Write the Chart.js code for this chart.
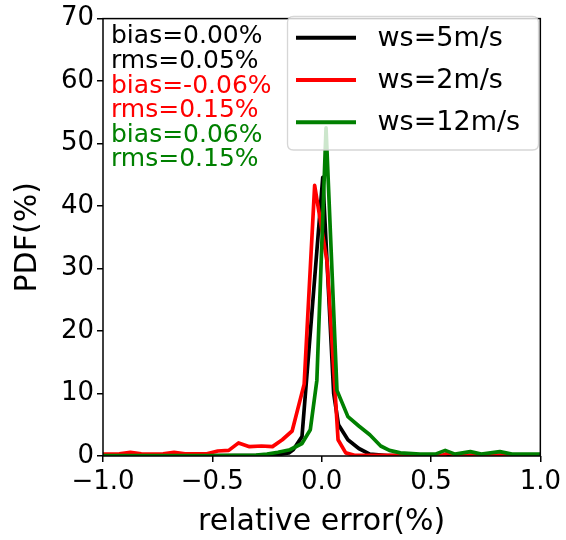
<!DOCTYPE html>
<html><head><meta charset="utf-8">
<script src="https://cdn.jsdelivr.net/npm/chart.js@4/dist/chart.umd.min.js"></script>
<style>html,body{margin:0;padding:0;background:#fff;}</style>
</head><body>
<canvas id="c" width="566" height="540" style="width:566px;height:540px;display:block"></canvas>
<script>
// ---------- data ----------
const seriesLabels = ["ws=5m/s", "ws=2m/s", "ws=12m/s"];

const err5 = [-1.0, -0.5, -0.25, -0.2, -0.15, -0.13, -0.09, 0.005, 0.055, 0.077, 0.12, 0.17, 0.22, 0.3, 1.0];
const pdf5 = [0.05, 0.05, 0.1, 0.2, 0.5, 1.0, 3.1, 44.6, 10.0, 5.0, 2.6, 1.2, 0.3, 0.05, 0.05];

const err2 = [-1.0, -0.975, -0.925, -0.875, -0.825, -0.775, -0.725, -0.675, -0.625, -0.575, -0.525, -0.475, -0.425, -0.38, -0.33, -0.275, -0.225, -0.18, -0.135, -0.08, -0.032, 0.025, 0.075, 0.11, 0.15, 0.3, 0.55, 0.58, 0.62, 0.95, 1.0];
const pdf2 = [0.3, 0.3, 0.35, 0.6, 0.35, 0.3, 0.35, 0.6, 0.35, 0.35, 0.35, 0.8, 0.9, 2.1, 1.5, 1.6, 1.5, 2.6, 4.0, 11.5, 43.3, 31.0, 2.6, 0.5, 0.1, 0.1, 0.1, 0.5, 0.1, 0.2, 0.2];

const err12 = [-1.0, -0.5, -0.3, -0.25, -0.2, -0.145, -0.09, -0.052, -0.022, 0.02, 0.07, 0.12, 0.17, 0.22, 0.27, 0.31, 0.36, 0.45, 0.52, 0.565, 0.61, 0.68, 0.73, 0.815, 0.87, 1.0];
const pdf12 = [0.05, 0.05, 0.15, 0.3, 0.6, 1.0, 2.0, 4.2, 12.1, 52.5, 10.5, 6.3, 4.8, 3.4, 1.6, 0.9, 0.5, 0.3, 0.3, 0.9, 0.3, 0.7, 0.3, 0.7, 0.3, 0.3];

const xTickValues = [-1.0, -0.5, 0.0, 0.5, 1.0];
const xTickLabels = ["\u22121.0", "\u22120.5", "0.0", "0.5", "1.0"];
const yTickValues = [0, 10, 20, 30, 40, 50, 60, 70];
const yTickLabels = ["0", "10", "20", "30", "40", "50", "60", "70"];

const biasValues = ["0.00", "-0.06", "0.06"];
const rmsValues = ["0.05", "0.15", "0.15"];

const xTitle = "relative error(%)";
const yTitle = "PDF(%)";

// ---------- styles ----------
const colors = ["#000000", "#ff0000", "#008000"];
const FONT = "'DejaVu Sans', 'Liberation Sans', sans-serif";

function pairs(xs, ys) { return xs.map((x, i) => ({ x: x, y: ys[i] })); }

const seriesX = [err5, err2, err12];
const seriesY = [pdf5, pdf2, pdf12];

const datasets = seriesLabels.map((lab, i) => ({
  label: lab,
  data: pairs(seriesX[i], seriesY[i]),
  borderColor: colors[i],
  backgroundColor: colors[i],
  borderWidth: 3.7,
  pointRadius: 0,
  tension: 0,
  fill: false,
  clip: 0,
  order: seriesLabels.length - i,
  borderJoinStyle: 'round',
  borderCapStyle: 'round'
}));

const overlay = {
  id: 'overlay',
  afterDatasetsDraw(chart) {
    const ctx = chart.ctx;
    const a = chart.chartArea;
    ctx.save();
    // frame
    ctx.strokeStyle = '#000';
    ctx.lineWidth = 1.5;
    ctx.strokeRect(a.left, a.top, a.right - a.left, a.bottom - a.top);

    // stats text
    ctx.font = "25px " + FONT;
    ctx.textAlign = 'left';
    ctx.textBaseline = 'alphabetic';
    let yb = 43.3;
    const step = 24.6;
    for (let i = 0; i < biasValues.length; i++) {
      ctx.fillStyle = colors[i];
      ctx.fillText("bias=" + biasValues[i] + "%", a.left + 8, yb); yb += step;
      ctx.fillText("rms=" + rmsValues[i] + "%", a.left + 8, yb); yb += step;
    }

    // legend
    const bx = 287.5, by = 16.5, bw = 251, bh = 133.5, r = 6;
    ctx.beginPath();
    ctx.moveTo(bx + r, by);
    ctx.lineTo(bx + bw - r, by); ctx.quadraticCurveTo(bx + bw, by, bx + bw, by + r);
    ctx.lineTo(bx + bw, by + bh - r); ctx.quadraticCurveTo(bx + bw, by + bh, bx + bw - r, by + bh);
    ctx.lineTo(bx + r, by + bh); ctx.quadraticCurveTo(bx, by + bh, bx, by + bh - r);
    ctx.lineTo(bx, by + r); ctx.quadraticCurveTo(bx, by, bx + r, by);
    ctx.closePath();
    ctx.fillStyle = 'rgba(255,255,255,0.8)';
    ctx.fill();
    ctx.strokeStyle = 'rgba(204,204,204,0.8)';
    ctx.lineWidth = 1.3;
    ctx.stroke();

    ctx.font = "27px " + FONT;
    ctx.textBaseline = 'middle';
    chart.data.datasets.forEach((ds, i) => {
      const cy = 37.7 + i * 42.3;
      ctx.strokeStyle = ds.borderColor;
      ctx.lineWidth = 4;
      ctx.lineCap = 'butt';
      ctx.beginPath(); ctx.moveTo(296, cy); ctx.lineTo(356, cy); ctx.stroke();
      ctx.fillStyle = '#000';
      ctx.fillText(ds.label, 377.5, cy + 1);
    });
    ctx.restore();
  }
};

new Chart(document.getElementById('c'), {
  type: 'line',
  data: { datasets: datasets },
  options: {
    responsive: false,
    animation: false,
    devicePixelRatio: 1,
    layout: { padding: { top: 18, right: 25, left: 0, bottom: 0 } },
    plugins: { legend: { display: false }, tooltip: { enabled: false } },
    scales: {
      x: {
        type: 'linear', min: -1, max: 1,
        afterBuildTicks: s => { s.ticks = xTickValues.map(v => ({ value: v })); },
        afterFit: s => { s.height = 84; },
        ticks: {
          callback: (v) => { const k = xTickValues.findIndex(t => Math.abs(t - v) < 1e-9); return k >= 0 ? xTickLabels[k] : ''; },
          font: { family: FONT, size: 26 }, color: '#000', padding: 5, maxRotation: 0, autoSkip: false
        },
        grid: { drawOnChartArea: false, drawTicks: true, tickLength: 6, color: '#000', lineWidth: 1.5 },
        border: { display: false },
        title: { display: true, text: xTitle, color: '#000', font: { family: FONT, size: 30 }, padding: { top: 0, bottom: 0 } }
      },
      y: {
        type: 'linear', min: 0, max: 70,
        afterBuildTicks: s => { s.ticks = yTickValues.map(v => ({ value: v })); },
        afterFit: s => { s.width = 103; },
        ticks: {
          callback: (v) => { const k = yTickValues.indexOf(v); return k >= 0 ? yTickLabels[k] : ''; },
          font: { family: FONT, size: 26 }, color: '#000', padding: 3, autoSkip: false
        },
        grid: { drawOnChartArea: false, drawTicks: true, tickLength: 6, color: '#000', lineWidth: 1.5 },
        border: { display: false },
        title: { display: true, text: yTitle, color: '#000', font: { family: FONT, size: 30 }, padding: { top: 10, bottom: 0 } }
      }
    }
  },
  plugins: [overlay]
});
</script>
</body></html>
